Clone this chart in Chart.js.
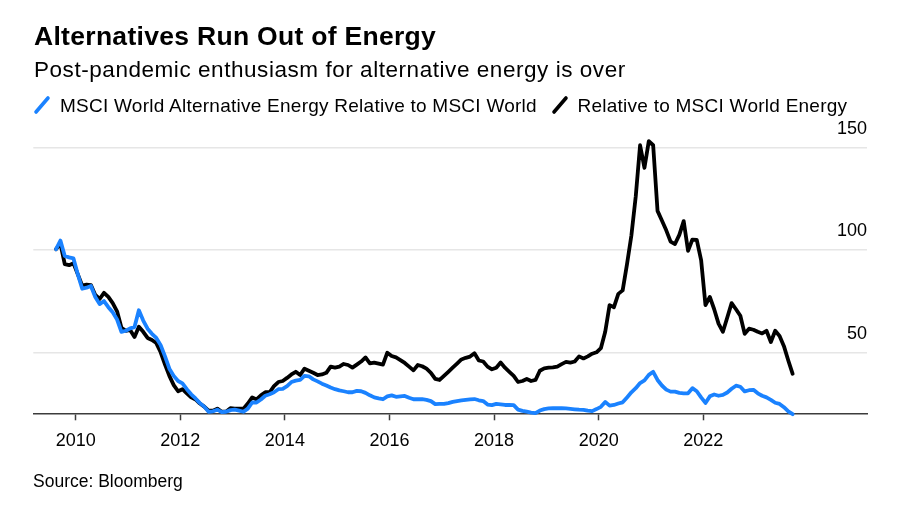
<!DOCTYPE html>
<html>
<head>
<meta charset="utf-8">
<script src="https://cdn.jsdelivr.net/npm/chart.js@4/dist/chart.umd.min.js"></script>
<style>
  html, body { margin: 0; padding: 0; background: #fff; }
  #wrap { position: relative; width: 900px; height: 516px; overflow: hidden; font-family: "Liberation Sans", Arial, Helvetica, sans-serif; color: #000; }
  #c { position: absolute; left: 0; top: 0; }
  .t { position: absolute; white-space: nowrap; line-height: 1; }
  #title { left: 34px; top: 22.6px; font-size: 26.5px; font-weight: bold; letter-spacing: 0.3px; }
  #sub { left: 34px; top: 59.3px; font-size: 22.5px; letter-spacing: 0.55px; }
  .leg { top: 95.6px; font-size: 19px; letter-spacing: 0.25px; }
  #src { left: 33px; top: 472.5px; font-size: 17.5px; }
  svg.mk { position: absolute; }
</style>
</head>
<body>
<div id="wrap">
  <canvas id="c" width="900" height="516"></canvas>
  <div class="t" id="title">Alternatives Run Out of Energy</div>
  <div class="t" id="sub">Post-pandemic enthusiasm for alternative energy is over</div>
  <svg class="mk" style="left:33px;top:95px" width="18" height="20"><line x1="3" y1="17" x2="15" y2="3" stroke="#1a82ff" stroke-width="3.6" stroke-linecap="round"/></svg>
  <div class="t leg" style="left:60px">MSCI World Alternative Energy Relative to MSCI World</div>
  <svg class="mk" style="left:551px;top:95px" width="18" height="20"><line x1="3" y1="17" x2="15" y2="3" stroke="#000" stroke-width="3.6" stroke-linecap="round"/></svg>
  <div class="t leg" style="left:577.5px">Relative to MSCI World Energy</div>
  <div class="t" id="src">Source: Bloomberg</div>
</div>
<script>
// Monthly observations, first month Aug 2009, last month Sep 2023
const firstYear = 2009, firstMonth = 8;

const altVsWorld = [
100.3,104.5,97,96.3,95.8,88,81,81.5,82.3,77,73.5,75,72,69.5,66,60,60.5,61.7,62.3,70.5,
65.5,61.5,59,57,53.5,48,42,38.5,36,34.8,32,29.5,27.5,25.2,23.5,21,21.2,22,20.8,21,
21.8,22,21.5,21,22.5,25.5,25.5,27,28.8,29.5,30.5,32,32.2,33.5,35.5,36.2,36.5,38.5,38.3,36.8,
35.8,34.7,33.8,32.8,32,31.4,31,30.5,30.5,31.2,31,30.2,29,28,27.5,27.1,28.5,29,28.3,28.5,
28.7,27.8,27.1,27.1,27.1,26.8,26.2,24.7,24.8,24.8,25.2,25.8,26.2,26.5,26.8,27,27.2,26.6,26.2,24.5,
24.2,24.8,24.6,24.3,24.3,24.2,22,21.4,21,20.6,20.3,21.6,22.3,22.6,22.7,22.7,22.7,22.6,22.4,22.2,
22,21.9,21.5,21.3,22.3,23.4,25.8,24,24.3,25,25.6,28,30.5,32.5,35,36.3,39,40.5,36.5,33.8,
31.8,30.8,30.8,30.2,30,30,32.5,31,28,25.3,28.5,29.4,28.8,29.2,30.4,32.2,33.7,33.2,30.9,31.5,
31.7,30,28.8,28,26.8,25.4,24.8,23.2,21.2,19.8
];

const altVsEnergy = [
100.3,103,93,92.5,93.4,88,82.5,83,82.8,78,76,79,77,74,70,62,60.5,60.9,57.5,62.5,
60,57,56,54.5,50,44,38.5,34,31,32,30,28,27,25,23.5,21.5,21.5,22.5,21,21,
22.7,22.5,22.5,22.5,25,28,27,29,30.5,30.5,33.5,35.5,36,37.5,39.2,40.5,38.9,42,41,40,
38.9,39.2,40,43,42.5,43,44.3,43.8,42.5,44,45.5,47.5,44.6,45,44.5,44,49.8,48.2,47.5,46.2,
44.8,43,41.2,43.8,43.2,42,40,37,36.5,38.5,40.5,42.5,44.5,46.5,47.3,47.9,49.5,46,45.5,43,
41.7,42.5,45,42.5,40.5,38.5,35.5,36,37,36,36.5,41,42.2,42.5,42.6,43,44.2,45.3,45,45.5,
48,47,48,49.3,50,52,60,73,72,78.5,80.2,93,107,126,151,140,153,151,119,114.3,
109.5,104,102.8,107.3,114,99.5,105,104.8,95,73,77,71,64,60,67,74,71,67.8,59,61.5,
61,60,59.2,60.5,55,60.5,58,53,46,39.5
];

const xTickYears = [2010, 2012, 2014, 2016, 2018, 2020, 2022];
const yTickValues = [50, 100, 150];

// decimal-year position (mid-month) for each observation
const monthPos = altVsWorld.map((_, i) => {
  const m = firstMonth - 1 + i;
  return firstYear + Math.floor(m / 12) + ((m % 12) + 0.5) / 12;
});
const toPoints = arr => arr.map((v, i) => ({ x: monthPos[i], y: v }));

const baseFont = "'Liberation Sans', Arial, Helvetica, sans-serif";

new Chart(document.getElementById('c'), {
  type: 'line',
  data: {
    datasets: [
      { label: 'MSCI World Alternative Energy Relative to MSCI World', data: toPoints(altVsWorld),
        borderColor: '#1a82ff', borderWidth: 3.8, pointRadius: 0, tension: 0, borderJoinStyle: 'round', borderCapStyle: 'round', clip: 6 },
      { label: 'Relative to MSCI World Energy', data: toPoints(altVsEnergy),
        borderColor: '#000000', borderWidth: 3.8, pointRadius: 0, tension: 0, borderJoinStyle: 'round', borderCapStyle: 'round', clip: 6 }
    ]
  },
  options: {
    responsive: false,
    animation: false,
    events: [],
    layout: { padding: { left: 33.3, right: 33, top: 130, bottom: 42.7 } },
    plugins: { legend: { display: false }, title: { display: false }, tooltip: { enabled: false } },
    scales: {
      x: {
        type: 'linear',
        min: 2009.19,
        max: 2025.13,
        afterBuildTicks: s => { s.ticks = xTickYears.map(v => ({ value: v })); },
        afterFit: s => { s.height = 60; },
        grid: { drawOnChartArea: false, drawTicks: true, tickLength: 7, tickColor: '#3c3c3c', tickWidth: 1.5 },
        border: { display: true, color: '#3c3c3c', width: 1.5 },
        ticks: { color: '#000', font: { family: baseFont, size: 18 }, padding: 10, maxRotation: 0, autoSkip: false,
                 callback: v => String(v) }
      },
      y: {
        position: 'right',
        min: 20.24,
        max: 158.44,
        afterBuildTicks: s => { s.ticks = yTickValues.map(v => ({ value: v })); },
        afterFit: s => { s.width = 0; },
        grid: { color: '#e6e6e6', lineWidth: 1.5, drawTicks: false },
        border: { display: false },
        ticks: { mirror: true, padding: 0, labelOffset: -18.3, color: '#000', font: { family: baseFont, size: 18 },
                 callback: v => String(v) }
      }
    }
  }
});
</script>
</body>
</html>
